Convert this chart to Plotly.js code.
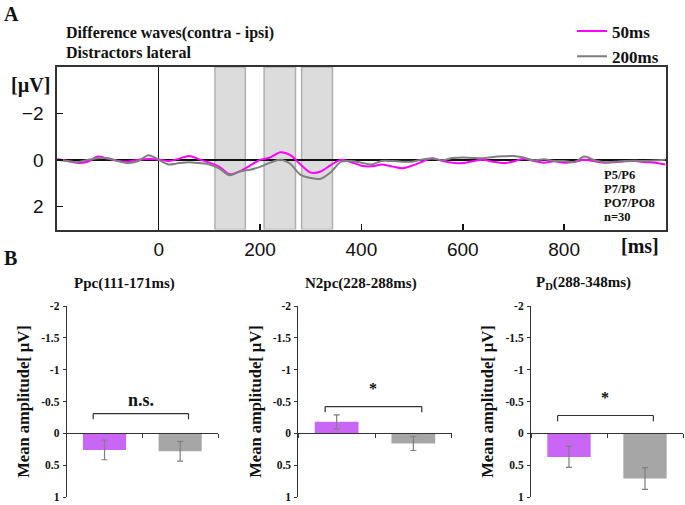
<!DOCTYPE html>
<html>
<head>
<meta charset="utf-8">
<script src="https://cdn.plot.ly/plotly-3.0.1.min.js"></script>
<style>html,body{margin:0;padding:0;background:#fff;}#chart{width:685px;height:505px;}</style>
</head>
<body>
<div id="chart"></div>
<script>
// ---------- DATA ----------
const times = [-200,-180,-160,-140,-120,-100,-80,-60,-40,-20,0,20,40,60,80,100,120,140,160,180,200,220,240,260,280,300,320,340,360,380,400,420,440,460,480,500,520,540,560,580,600,620,640,660,680,700,720,740,760,780,800,820,840,860,880,900,920,940,960,980,1000];
const wave50 = [-0.04,0.05,0.13,0.08,-0.14,-0.05,0.05,0.07,0.0,-0.04,-0.02,0.05,-0.05,-0.17,-0.02,0.12,0.3,0.62,0.5,0.25,0.0,-0.1,-0.33,-0.2,0.2,0.55,0.5,0.22,0.0,0.1,0.25,0.28,0.2,0.28,0.36,0.25,0.08,-0.07,0.05,0.12,0.14,0.06,0.0,0.08,0.14,0.07,-0.05,0.05,0.12,0.06,0.12,0.08,0.0,0.06,0.12,0.1,0.06,0.05,0.1,0.12,0.2];
const wave200 = [0.0,0.05,0.1,0.0,-0.07,-0.07,0.05,0.14,0.05,-0.2,0.0,0.2,0.14,0.1,0.14,0.2,0.38,0.66,0.5,0.43,0.3,0.12,0.0,0.18,0.65,0.78,0.81,0.52,0.08,0.05,0.12,0.2,0.05,0.05,0.08,0.08,-0.02,-0.06,0.02,-0.08,-0.1,-0.08,-0.07,-0.12,-0.15,-0.17,-0.1,0.02,-0.03,0.05,0.05,0.1,-0.14,0.02,0.1,0.08,0.05,0.04,0.05,0.03,0.0];
const seriesNames = ['50ms','200ms'];
const windowStart = [111,208,282];
const windowEnd = [171,270,343];
const electrodeLabels = ['P5/P6','P7/P8','PO7/PO8','n=30'];

const components = ['Ppc(111-171ms)','N2pc(228-288ms)','P<sub>D</sub>(288-348ms)'];
const meanAmp = [[0.26,0.28],[-0.18,0.16],[0.37,0.71]];
const semAmp = [[0.155,0.155],[0.11,0.11],[0.165,0.17]];
const sigLabels = ['n.s.','*','*'];
const bracketLevel = [-0.31,-0.42,-0.28];

// ---------- STYLE ----------
const SERIF = 'Liberation Serif, Times New Roman, serif';
const SANS = 'Liberation Sans, Arial, sans-serif';
const W = 685, H = 505;
const px = v => v / W, py = v => 1 - v / H;
const lineColors = ['#ff00ff','#7f7f7f'];
const barColors = ['#c966f5','#a6a6a6'];

const data = [];
seriesNames.forEach((nm, i) => {
  data.push({
    type: 'scatter', mode: 'lines', x: times, y: i === 0 ? wave50 : wave200,
    name: nm, xaxis: 'x', yaxis: 'y',
    line: {color: lineColors[i], width: 2, shape: 'spline', smoothing: 0.8}
  });
});

const barDomains = [[66.7,218],[298.3,451.7],[531,683]];
const barTop = 306, barBottom = 497;
const zeroPx = barTop + (barBottom - barTop) * 2 / 3;
const layout = {
  width: W, height: H, margin: {l:0,r:0,t:0,b:0},
  paper_bgcolor: '#fff', plot_bgcolor: 'rgba(0,0,0,0)',
  showlegend: true,
  legend: {x: px(572), y: py(13.5), xanchor: 'left', yanchor: 'top', bgcolor: 'rgba(0,0,0,0)',
           font: {family: SERIF, size: 17, weight: 'bold', color: '#111'}, tracegroupgap: 0},
  xaxis: {domain: [px(57.3), px(665.5)], range: [-200, 1000], anchor: 'y',
          showline: true, mirror: true, linecolor: '#333', linewidth: 2,
          showgrid: false, zeroline: true, zerolinecolor: '#111', zerolinewidth: 1.5,
          ticks: 'inside', ticklen: 6, tickcolor: '#111', tickwidth: 1.5,
          tickvals: [0,200,400,600,800], ticklabelstandoff: 2,
          tickfont: {family: SANS, size: 19, color: '#111'}},
  yaxis: {domain: [py(229.5), py(67)], range: [3, -4], anchor: 'x',
          showline: true, mirror: true, linecolor: '#333', linewidth: 2,
          showgrid: false, zeroline: true, zerolinecolor: '#111', zerolinewidth: 1.5,
          ticks: 'inside', ticklen: 6, tickcolor: '#111', tickwidth: 1.5,
          tickvals: [-2,0,2], ticklabelstandoff: 8,
          tickfont: {family: SANS, size: 19, color: '#111'}},
  shapes: [], annotations: []
};

windowStart.forEach((s, i) => {
  layout.shapes.push({type: 'rect', xref: 'x', yref: 'y', x0: s, x1: windowEnd[i], y0: -4, y1: 3,
    fillcolor: '#dcdcdc', line: {color: '#b0b0b0', width: 1.5}, layer: 'below'});
});

const ann = (x, y, text, size, opts) => Object.assign({
  xref: 'paper', yref: 'paper', x: px(x), y: py(y), text: text, showarrow: false,
  font: {family: SERIF, size: size, weight: 'bold', color: '#111'}, xanchor: 'left', yanchor: 'middle'
}, opts || {});

layout.annotations.push(ann(2, 14, 'A', 20));
layout.annotations.push(ann(2, 258, 'B', 20));
layout.annotations.push(ann(64, 33, 'Difference waves(contra - ipsi)', 16));
layout.annotations.push(ann(64, 53, 'Distractors lateral', 16));
layout.annotations.push(ann(30, 85, '[µV]', 20, {xanchor: 'center'}));
layout.annotations.push(ann(640, 246, '[ms]', 20, {xanchor: 'center'}));
electrodeLabels.forEach((t, i) => layout.annotations.push(ann(602, 175 + i * 14, t, 12.5)));

components.forEach((title, k) => {
  const n = k + 2;
  const xa = 'xaxis' + n, ya = 'yaxis' + n;
  const xr = 'x' + n, yr = 'y' + n;
  const xs = seriesNames.map((_, i) => i);
  data.push({
    type: 'bar', x: xs, y: meanAmp[k], xaxis: xr, yaxis: yr, width: 0.57, showlegend: false,
    marker: {color: barColors, line: {width: 0}},
    error_y: {type: 'data', array: semAmp[k], visible: true, color: '#7f7f7f', thickness: 1.2, width: 3}
  });
  const d = barDomains[k];
  layout[xa] = {domain: [px(d[0]), px(d[1])], range: [-0.5, 1.5], anchor: 'free', position: py(zeroPx),
    showline: true, linecolor: '#333', linewidth: 1, showgrid: false, zeroline: false,
    tickvals: [-0.5, 0.5, 1.5], ticks: 'outside', ticklen: 4, tickcolor: '#333', showticklabels: false};
  layout[ya] = {domain: [py(barBottom), py(barTop)], range: [1, -2], anchor: xr,
    showline: true, linecolor: '#333', linewidth: 1, showgrid: false, zeroline: false,
    ticks: 'outside', ticklen: 3, tickcolor: '#333',
    tickvals: [-2,-1.5,-1,-0.5,0,0.5,1], ticktext: ['-2','-1.5','-1','-0.5','0','0.5','1'],
    ticklabelstandoff: 1, ticklabeloverflow: 'allow',
    tickfont: {family: SERIF, size: 11.5, weight: 'bold', color: '#111'},
    title: {text: 'Mean amplitude[ µV]', standoff: 7, font: {family: SERIF, size: 16.5, weight: 'bold', color: '#111'}}};
  const xl = -0.15, xrgt = 1.11, lv = bracketLevel[k], drop = 0.09;
  [[xl, lv + drop, xl, lv], [xl, lv, xrgt, lv], [xrgt, lv, xrgt, lv + drop]].forEach(s => {
    layout.shapes.push({type: 'line', xref: xr, yref: yr, x0: s[0], y0: s[1], x1: s[2], y1: s[3],
      line: {color: '#333', width: 1.2}});
  });
  layout.annotations.push({xref: xr, yref: yr, x: (xl + xrgt) / 2, y: lv, yshift: sigLabels[k] === '*' ? 18 : 14,
    text: sigLabels[k], showarrow: false, xanchor: 'center', yanchor: 'middle',
    font: {family: SERIF, size: sigLabels[k] === '*' ? 16 : 18, weight: 'bold', color: '#111'}});
  const tcx = [124.7, 360.5, 583][k];
  layout.annotations.push(ann(tcx, 283, title, 15, {xanchor: 'center'}));
});

Plotly.newPlot('chart', data, layout, {staticPlot: true, displayModeBar: false});
</script>
</body>
</html>
